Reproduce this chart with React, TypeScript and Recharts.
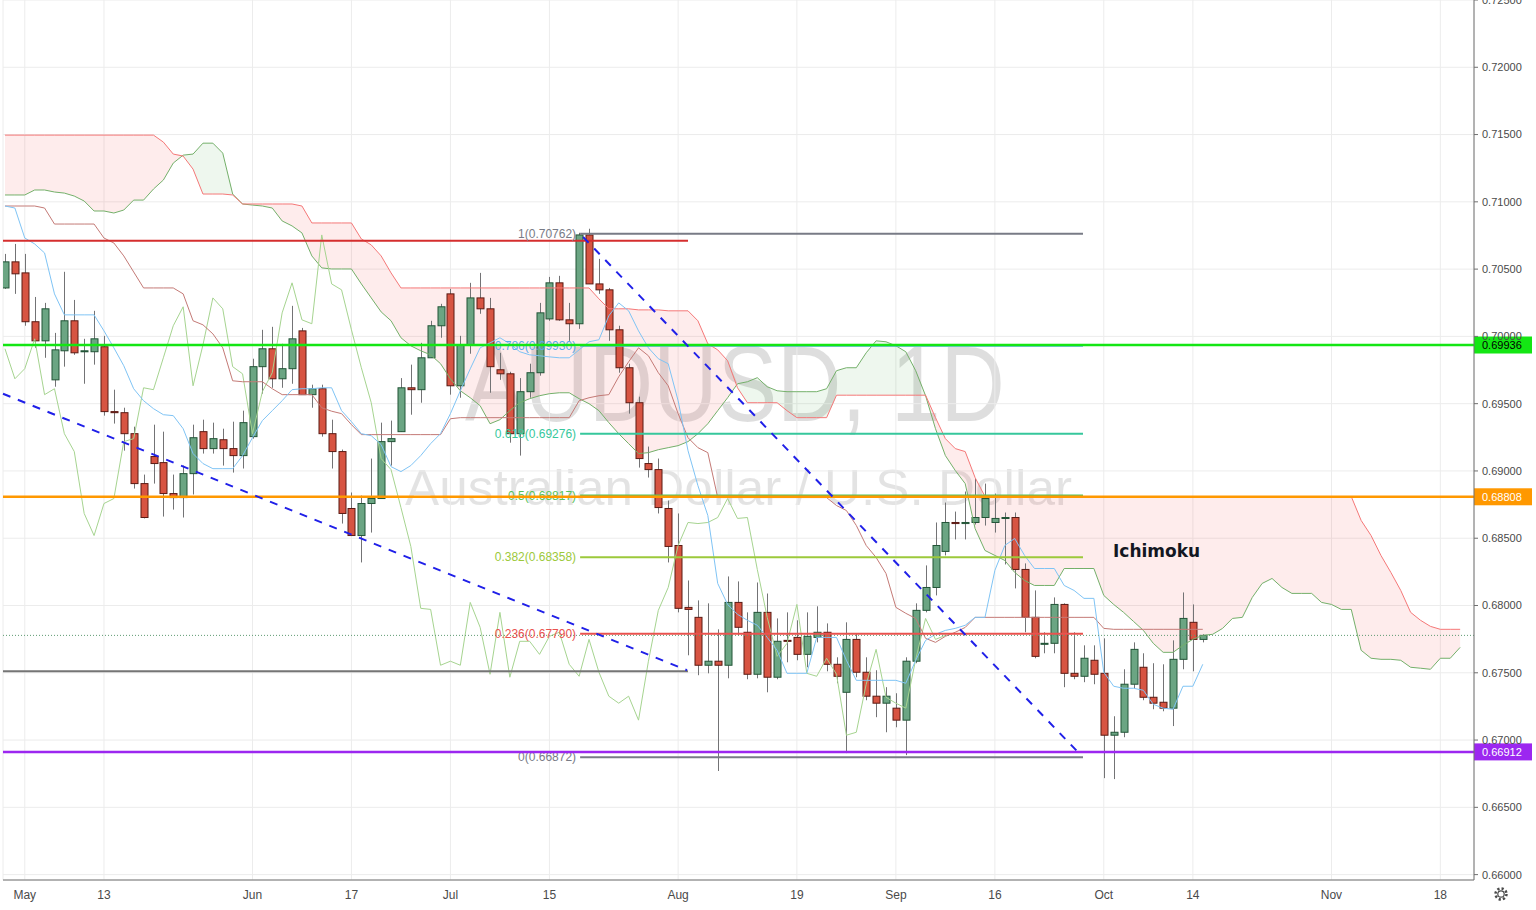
import React from 'react';
import { ComposedChart, Bar, Line, Area, XAxis, YAxis, CartesianGrid, ReferenceLine } from 'recharts';

const FONT = '"Liberation Sans", Arial, sans-serif';

// ---- daily candles (index 0 = 29 Apr 2019) ----
const opens = [
  0.7036, 0.70554, 0.70472, 0.70109, 0.69967, 0.69677, 0.69893, 0.70116, 0.69886, 0.69886,
  0.69923, 0.69441, 0.69433, 0.69277, 0.68906, 0.69107, 0.69062, 0.68832, 0.68802, 0.6898,
  0.69292, 0.69166, 0.69232, 0.69166, 0.69114, 0.69255, 0.69775, 0.69908, 0.69685, 0.6976,
  0.70041, 0.69567, 0.69611, 0.69277, 0.69144, 0.68721, 0.6852, 0.68758, 0.68795, 0.69218,
  0.69292, 0.69618, 0.69604, 0.69841, 0.70079, 0.70316, 0.69633, 0.69937, 0.70286, 0.70205,
  0.69752, 0.69722, 0.69277, 0.69589, 0.6973, 0.7013, 0.70398, 0.70123, 0.70094, 0.70754,
  0.7039, 0.70346, 0.70049, 0.69767, 0.69507, 0.69055, 0.6901, 0.68721, 0.68446, 0.67986,
  0.67912, 0.67556, 0.67586, 0.67556, 0.68023, 0.67801, 0.67489, 0.67949, 0.67467, 0.67741,
  0.67763, 0.67637, 0.67763, 0.67801, 0.67563, 0.67355, 0.67748, 0.67504, 0.67326, 0.67274,
  0.67237, 0.67148, 0.67586, 0.67964, 0.68134, 0.68402, 0.68617, 0.68609, 0.68617, 0.68654,
  0.68617, 0.68647, 0.68654, 0.68268, 0.67912, 0.67712, 0.67719, 0.68008, 0.67496, 0.67474,
  0.67593, 0.67496, 0.67036, 0.67058, 0.67415, 0.67541, 0.67318, 0.67281, 0.67237, 0.676,
  0.67875, 0.67748,
];
const highs = [
  0.70613, 0.70687, 0.70613, 0.70293, 0.70249, 0.70026, 0.7048, 0.70271, 0.69982, 0.7019,
  0.70004, 0.69604, 0.6947, 0.69329, 0.68973, 0.69344, 0.69292, 0.68973, 0.6904, 0.69344,
  0.69381, 0.69359, 0.69314, 0.69366, 0.69448, 0.69834, 0.70049, 0.70071, 0.69945, 0.70227,
  0.70063, 0.69641, 0.69641, 0.69381, 0.69159, 0.6884, 0.68817, 0.69092, 0.69359, 0.69374,
  0.6969, 0.6979, 0.69952, 0.70116, 0.70242, 0.70353, 0.70004, 0.70398, 0.70472, 0.70286,
  0.69878, 0.69737, 0.6969, 0.69797, 0.70249, 0.70442, 0.7045, 0.70249, 0.7077, 0.708,
  0.70576, 0.7036, 0.70079, 0.69797, 0.69552, 0.69181, 0.69092, 0.6878, 0.68684, 0.68186,
  0.68038, 0.68016, 0.67823, 0.68216, 0.68179, 0.67949, 0.68171, 0.68089, 0.67904, 0.67949,
  0.6789, 0.67949, 0.67994, 0.67867, 0.67615, 0.67875, 0.67793, 0.67615, 0.67519, 0.67393,
  0.67348, 0.67615, 0.68016, 0.68298, 0.68617, 0.68765, 0.68698, 0.68847, 0.68943, 0.68906,
  0.68832, 0.68691, 0.68691, 0.68313, 0.68112, 0.67801, 0.6806, 0.68016, 0.67801, 0.67704,
  0.67704, 0.67756, 0.67177, 0.67526, 0.67726, 0.67645, 0.67571, 0.67563, 0.67741, 0.68097,
  0.68008, 0.67786,
];
const lows = [
  0.70353, 0.70316, 0.70079, 0.69915, 0.69841, 0.69626, 0.69775, 0.69863, 0.69648, 0.6979,
  0.69411, 0.69352, 0.69151, 0.68869, 0.68647, 0.68906, 0.68661, 0.68713, 0.68654, 0.68825,
  0.69129, 0.69129, 0.6904, 0.68988, 0.69018, 0.6924, 0.69574, 0.69618, 0.69618, 0.69648,
  0.69567, 0.6947, 0.69255, 0.69018, 0.68609, 0.6852, 0.6832, 0.68542, 0.68795, 0.6904,
  0.69292, 0.69418, 0.69507, 0.69841, 0.6999, 0.69567, 0.69544, 0.69871, 0.70168, 0.69581,
  0.69677, 0.6921, 0.69114, 0.69544, 0.69708, 0.70116, 0.70116, 0.69967, 0.70056, 0.7039,
  0.70316, 0.69967, 0.6973, 0.69426, 0.69025, 0.68951, 0.68684, 0.6832, 0.67949, 0.6763,
  0.67482, 0.67496, 0.6677, 0.67459, 0.67778, 0.67452, 0.67459, 0.67355, 0.67452, 0.67578,
  0.67593, 0.67541, 0.67726, 0.67511, 0.67422, 0.66903, 0.67467, 0.67296, 0.6717, 0.67058,
  0.67095, 0.66888, 0.67571, 0.67949, 0.68075, 0.68372, 0.68491, 0.68491, 0.68602, 0.68594,
  0.68542, 0.68305, 0.68127, 0.67801, 0.67608, 0.67645, 0.67645, 0.67393, 0.67452, 0.6743,
  0.67415, 0.66717, 0.6671, 0.67021, 0.67385, 0.67296, 0.67229, 0.67214, 0.67104, 0.67526,
  0.67511, 0.67726,
];
const closes = [
  0.70554, 0.70465, 0.70109, 0.69967, 0.70205, 0.699, 0.70116, 0.69878, 0.69893, 0.69982,
  0.69441, 0.69433, 0.69277, 0.68906, 0.68654, 0.69055, 0.68832, 0.68802, 0.6898, 0.69247,
  0.69166, 0.6924, 0.69166, 0.69114, 0.69359, 0.69775, 0.69908, 0.69685, 0.6976, 0.69982,
  0.69567, 0.69611, 0.69277, 0.69144, 0.68684, 0.6852, 0.68758, 0.68795, 0.69218, 0.6924,
  0.69618, 0.69604, 0.69841, 0.70079, 0.7022, 0.69633, 0.69937, 0.70286, 0.70205, 0.69775,
  0.69722, 0.69277, 0.69589, 0.6973, 0.70175, 0.70398, 0.70123, 0.70094, 0.70754, 0.7039,
  0.70346, 0.70049, 0.69767, 0.69507, 0.69092, 0.6901, 0.68728, 0.68439, 0.67979, 0.67971,
  0.67556, 0.67586, 0.67556, 0.68023, 0.67838, 0.67489, 0.67949, 0.67467, 0.67734, 0.67734,
  0.67637, 0.67771, 0.67801, 0.67563, 0.67474, 0.67748, 0.67504, 0.67326, 0.67274, 0.67326,
  0.67148, 0.67586, 0.67964, 0.68134, 0.68446, 0.68617, 0.68609, 0.68617, 0.68654, 0.68795,
  0.68647, 0.68654, 0.68268, 0.67912, 0.67622, 0.67719, 0.68008, 0.67496, 0.67474, 0.67608,
  0.67489, 0.67036, 0.67058, 0.67415, 0.67674, 0.67318, 0.67274, 0.67237, 0.676, 0.67904,
  0.67748, 0.67778,
];

// ---- Ichimoku lines ----
const tenkanSen = [
  0.70969, 0.70954, 0.70731, 0.70687, 0.7062, 0.70316, 0.7016, 0.7016, 0.7016, 0.7016,
  0.70041, 0.69915, 0.69782, 0.69611, 0.69522, 0.69463, 0.69418, 0.69411, 0.69314, 0.69129,
  0.69055, 0.69017, 0.69017, 0.69017, 0.69114, 0.69247, 0.69374, 0.69448, 0.69522, 0.69604,
  0.69611, 0.69611, 0.69618, 0.69618, 0.69448, 0.69366, 0.69277, 0.69262, 0.69196, 0.69032,
  0.68995, 0.6904, 0.69114, 0.69203, 0.69277, 0.69426, 0.69596, 0.69759, 0.69915, 0.69952,
  0.6999, 0.69945, 0.69886, 0.69863, 0.69856, 0.69848, 0.69841, 0.69841, 0.699, 0.6996,
  0.69975, 0.70153, 0.70249, 0.7019, 0.70041, 0.69915, 0.69834, 0.69797, 0.69522, 0.69151,
  0.68891, 0.68669, 0.68164, 0.68008, 0.67934, 0.6789, 0.67853, 0.67763, 0.67667, 0.67496,
  0.67496, 0.67496, 0.67763, 0.67763, 0.67763, 0.67593, 0.67444, 0.67444, 0.67444, 0.67444,
  0.67444, 0.67422, 0.67593, 0.67741, 0.67786, 0.67815, 0.6783, 0.67853, 0.67912, 0.67912,
  0.68261, 0.68446, 0.68498, 0.68372, 0.68275, 0.68275, 0.68275, 0.68149, 0.68112, 0.68053,
  0.68053, 0.67504, 0.674, 0.67385, 0.67385, 0.6737, 0.67266, 0.67237, 0.67229, 0.674,
  0.674, 0.67563,
];
const kijunSen = [
  0.70969, 0.70969, 0.70969, 0.70969, 0.70954, 0.70835, 0.70835, 0.70835, 0.70835, 0.70835,
  0.70731, 0.70694, 0.70598, 0.70479, 0.7036, 0.7036, 0.7036, 0.7036, 0.70316, 0.70116,
  0.70086, 0.70019, 0.69915, 0.6967, 0.69663, 0.69663, 0.69663, 0.69611, 0.69567, 0.69567,
  0.69567, 0.69567, 0.6947, 0.69444, 0.69426, 0.69344, 0.6927, 0.6927, 0.6927, 0.6927,
  0.6927, 0.6927, 0.6927, 0.6927, 0.6927, 0.69388, 0.69396, 0.69396, 0.69396, 0.69396,
  0.69396, 0.69396, 0.69396, 0.69396, 0.69396, 0.69396, 0.69396, 0.69396, 0.69522, 0.69544,
  0.69559, 0.69567, 0.697, 0.69811, 0.69915, 0.69856, 0.6973, 0.69633, 0.69426, 0.69247,
  0.69173, 0.69136, 0.68802, 0.68802, 0.68802, 0.68802, 0.68802, 0.68802, 0.68802, 0.68802,
  0.68802, 0.68802, 0.68802, 0.68802, 0.68743, 0.68706, 0.68595, 0.68446, 0.68357, 0.68238,
  0.67986, 0.67942, 0.67904, 0.67756, 0.67726, 0.67771, 0.67801, 0.67837, 0.67912, 0.67912,
  0.67912, 0.67912, 0.67912, 0.67912, 0.67912, 0.67912, 0.67912, 0.67912, 0.67912, 0.67912,
  0.67912, 0.6783, 0.67823, 0.67823, 0.67823, 0.67823, 0.67823, 0.67823, 0.67823, 0.67823,
  0.67823, 0.67823,
];
const senkouA = [
  0.71051, 0.71051, 0.71051, 0.71088, 0.71088, 0.71073, 0.71065, 0.71043, 0.71006, 0.70932,
  0.70932, 0.70917, 0.70939, 0.71013, 0.71013, 0.71095, 0.71162, 0.71288, 0.71347, 0.71355,
  0.71436, 0.71436, 0.71362, 0.71058, 0.70984, 0.70976, 0.70969, 0.70954, 0.70858, 0.70821,
  0.70769, 0.70598, 0.70509, 0.70501, 0.70501, 0.70501, 0.7039, 0.70286, 0.70182, 0.70116,
  0.6999, 0.6993, 0.69893, 0.69863, 0.69797, 0.69685, 0.69596, 0.69544, 0.69485, 0.69351,
  0.69381, 0.69448, 0.69507, 0.69537, 0.69559, 0.69574, 0.69581, 0.69581, 0.69537, 0.695,
  0.69448, 0.69359, 0.69277, 0.69203, 0.69129, 0.69136, 0.69158, 0.69173, 0.69188, 0.69218,
  0.69277, 0.69351, 0.69448, 0.69544, 0.69648, 0.69663, 0.69693, 0.69626, 0.69596, 0.69589,
  0.69589, 0.69589, 0.69589, 0.69611, 0.69745, 0.69767, 0.69767, 0.69878, 0.69967, 0.6996,
  0.6993, 0.69886, 0.69745, 0.69559, 0.69314, 0.69114, 0.69003, 0.68906, 0.68572, 0.68409,
  0.68372, 0.68335, 0.68246, 0.68186, 0.68149, 0.68149, 0.68149, 0.68275, 0.68275, 0.68275,
  0.68275, 0.68075, 0.68008, 0.67949, 0.67882, 0.67815, 0.67719, 0.67652, 0.67652, 0.67704,
  0.67749, 0.67778, 0.67786, 0.6783, 0.67904, 0.67912, 0.6806, 0.68164, 0.68201, 0.68134,
  0.6809, 0.6809, 0.6809, 0.68023, 0.68008, 0.67971, 0.67971, 0.67667, 0.67608, 0.676,
  0.676, 0.67593, 0.67541, 0.67534, 0.67526, 0.67608, 0.67608, 0.67689,
];
const senkouB = [
  0.71496, 0.71496, 0.71496, 0.71496, 0.71496, 0.71496, 0.71496, 0.71496, 0.71496, 0.71496,
  0.71496, 0.71496, 0.71496, 0.71496, 0.71496, 0.71496, 0.71444, 0.71355, 0.7134, 0.71243,
  0.71058, 0.71058, 0.71058, 0.71051, 0.70984, 0.70984, 0.70984, 0.70984, 0.70984, 0.70984,
  0.70969, 0.70843, 0.70843, 0.70843, 0.70843, 0.70843, 0.70724, 0.7068, 0.70598, 0.70472,
  0.7036, 0.7036, 0.7036, 0.7036, 0.7036, 0.7036, 0.7036, 0.7036, 0.7036, 0.7036,
  0.7036, 0.7036, 0.7036, 0.7036, 0.7036, 0.7036, 0.7036, 0.7036, 0.7036, 0.7036,
  0.70279, 0.70205, 0.70205, 0.70205, 0.70197, 0.70197, 0.70197, 0.7019, 0.7019, 0.7019,
  0.70116, 0.69945, 0.699, 0.69819, 0.69618, 0.69507, 0.69507, 0.69507, 0.69507, 0.69448,
  0.69396, 0.69396, 0.69396, 0.69396, 0.69563, 0.69563, 0.69563, 0.69563, 0.69563, 0.69563,
  0.69563, 0.69563, 0.69563, 0.69563, 0.69396, 0.6924, 0.69166, 0.69144, 0.68951, 0.6881,
  0.6881, 0.6881, 0.6881, 0.6881, 0.6881, 0.6881, 0.6881, 0.6881, 0.6881, 0.6881,
  0.6881, 0.6881, 0.6881, 0.6881, 0.6881, 0.6881, 0.6881, 0.6881, 0.6881, 0.6881,
  0.6881, 0.6881, 0.6881, 0.6881, 0.6881, 0.6881, 0.6881, 0.6881, 0.6881, 0.6881,
  0.6881, 0.6881, 0.6881, 0.6881, 0.6881, 0.6881, 0.6881, 0.68632, 0.6852, 0.68372,
  0.68246, 0.68112, 0.67949, 0.6789, 0.67845, 0.67823, 0.67823, 0.67823,
];
const LAG = 26;

// ---- axes ----
const timeTicks = [2, 10, 25, 35, 45, 55, 68, 80, 90, 100, 111, 120, 134, 145];
const timeLabels = ['May', '13', 'Jun', '17', 'Jul', '15', 'Aug', '19', 'Sep', '16', 'Oct', '14', 'Nov', '18'];
const priceTicks = [0.66, 0.665, 0.67, 0.675, 0.68, 0.685, 0.69, 0.695, 0.7, 0.705, 0.71, 0.715, 0.72, 0.725];

// ---- drawings ----
const fibRatios = ['1', '0.786', '0.618', '0.5', '0.382', '0.236', '0'];
const fibValues = [0.70762, 0.6993, 0.69276, 0.68817, 0.68358, 0.6779, 0.66872];
const fibColors = ['#787b86', '#5aa9ea', '#36c79c', '#57c25a', '#9cc93b', '#e9524e', '#787b86'];
const fibSpan = [58.1, 108.9];

const levelValues = [0.69936, 0.68808, 0.66912];
const levelColors = ['#14e614', '#ff9800', '#9c27f0'];
const levelTextColors = ['#000000', '#ffffff', '#ffffff'];

const shortLevelValues = [0.70711, 0.67511];
const shortLevelColors = ['#d52e2e', '#757575'];
const shortLevelSpan = [-0.2, 69];

const trendStarts = [
  { x: -0.2, y: 0.69574 },
  { x: 58.4, y: 0.70739 },
];
const trendEnds = [
  { x: 68.9, y: 0.67519 },
  { x: 108.4, y: 0.6691 },
];

const rows = senkouA.map((a, i) => {
  const b = senkouB[i];
  const row: any = {
    i,
    spanA: a,
    spanB: b,
    greenCloud: a >= b ? [b, a] : [b, b],
    redCloud: b > a ? [a, b] : [a, a],
  };
  if (i < opens.length) {
    row.o = opens[i];
    row.h = highs[i];
    row.l = lows[i];
    row.c = closes[i];
    row.tenkan = tenkanSen[i];
    row.kijun = kijunSen[i];
  }
  if (i + LAG < closes.length) row.chikou = closes[i + LAG];
  return row;
});

const Candle = (props: any) => {
  const { x, y, width, height, payload } = props;
  if (!payload || payload.h === undefined) return null;
  const top = Math.min(y, y + height);
  const bot = Math.max(y, y + height);
  const rng = payload.h - payload.l || 1e-9;
  const py = (v: number) => top + ((payload.h - v) / rng) * (bot - top);
  const cx = Math.round(x + width / 2);
  const up = payload.c >= payload.o;
  const bTop = py(Math.max(payload.o, payload.c));
  const bBot = py(Math.min(payload.o, payload.c));
  return (
    <g>
      <line x1={cx + 0.5} x2={cx + 0.5} y1={top} y2={bot} stroke="#737375" strokeWidth={1} />
      <rect
        x={cx - 3}
        y={bTop}
        width={7}
        height={Math.max(1, bBot - bTop)}
        fill={up ? '#6ba583' : '#d75442'}
        stroke={up ? '#225437' : '#5b1a13'}
        strokeWidth={1}
      />
    </g>
  );
};

const PriceTag = (props: any) => {
  const { viewBox, bg, fg, text } = props;
  if (!viewBox) return null;
  const x = viewBox.x + viewBox.width;
  const y = viewBox.y;
  return (
    <g>
      <rect x={x} y={y - 8.5} width={58} height={17} fill={bg} />
      <text x={x + 8} y={y + 4} fontSize={11} fontFamily={FONT} fill={fg}>
        {text}
      </text>
    </g>
  );
};

const FibLabel = (props: any) => {
  const { viewBox, color, text } = props;
  if (!viewBox) return null;
  return (
    <text
      x={viewBox.x - 4}
      y={viewBox.y + 4}
      textAnchor="end"
      fontSize={12}
      fontFamily={FONT}
      fill={color}
    >
      {text}
    </text>
  );
};

const TimeTick = (props: any) => {
  const { x, y, payload } = props;
  const idx = timeTicks.indexOf(payload.value);
  const label = idx >= 0 ? timeLabels[idx] : '';
  return (
    <text x={x} y={y + 11} textAnchor="middle" fontSize={12} fontFamily={FONT} fill="#4a4a4a">
      {label}
    </text>
  );
};

export default function App() {
  return (
    <div style={{ position: 'absolute', left: 0, top: 0, width: 1536, height: 910, background: '#ffffff', overflow: 'hidden' }}>
      <svg width={1536} height={910} style={{ position: 'absolute', left: 0, top: 0 }}>
        <text x={465} y={421} fontSize={107} fontFamily={FONT} fill="rgba(0,0,0,0.13)" textLength={540} lengthAdjust="spacingAndGlyphs">
          AUDUSD, 1D
        </text>
        <text x={405} y={505} fontSize={50} fontFamily={FONT} fill="rgba(0,0,0,0.11)" textLength={667} lengthAdjust="spacingAndGlyphs">
          Australian Dollar / U.S. Dollar
        </text>
      </svg>
      <div style={{ position: 'absolute', left: 0, top: 0 }}>
        <ComposedChart width={1536} height={910} data={rows} margin={{ top: 0, right: 0, bottom: 0, left: 3 }}>
          <CartesianGrid stroke="#ececec" strokeWidth={1} />
          <XAxis
            dataKey="i"
            type="number"
            domain={[-0.2, 148.4]}
            allowDataOverflow
            ticks={timeTicks}
            interval={0}
            height={30}
            tickLine={false}
            axisLine={{ stroke: '#707070' }}
            tick={<TimeTick />}
          />
          <YAxis
            orientation="right"
            type="number"
            domain={[0.6596, 0.725]}
            allowDataOverflow
            ticks={priceTicks}
            interval={0}
            width={62}
            tickSize={4}
            tickMargin={4}
            tickFormatter={(v: number) => v.toFixed(5)}
            tick={{ fontSize: 11, fill: '#4a4a4a', fontFamily: FONT }}
            axisLine={{ stroke: '#707070' }}
            tickLine={{ stroke: '#707070' }}
          />
          <Area dataKey="redCloud" stroke="none" fill="rgba(245,60,60,0.16)" isAnimationActive={false} />
          <Area dataKey="greenCloud" stroke="none" fill="rgba(0,128,0,0.11)" isAnimationActive={false} />
          <Line dataKey="spanA" stroke="#74b06a" strokeWidth={1} dot={false} isAnimationActive={false} />
          <Line dataKey="spanB" stroke="#f57878" strokeWidth={1} dot={false} isAnimationActive={false} />
          <Line dataKey="chikou" stroke="#a6d490" strokeWidth={1} dot={false} isAnimationActive={false} />
          <Line dataKey="kijun" stroke="#c47a76" strokeWidth={1} dot={false} isAnimationActive={false} />
          <Line dataKey="tenkan" stroke="#7fc4f5" strokeWidth={1} dot={false} isAnimationActive={false} />
          <Bar
            dataKey={(d: any) => (d.h !== undefined ? [d.l, d.h] : null)}
            shape={<Candle />}
            barSize={8}
            isAnimationActive={false}
          />
          <ReferenceLine y={closes[closes.length - 1]} stroke="#5f9a72" strokeDasharray="1 2" strokeWidth={1} />
          {shortLevelValues.map((v, k) => (
            <ReferenceLine
              key={'s' + k}
              segment={[{ x: shortLevelSpan[0], y: v }, { x: shortLevelSpan[1], y: v }]}
              stroke={shortLevelColors[k]}
              strokeWidth={2}
            />
          ))}
          {fibValues.map((v, k) => (
            <ReferenceLine
              key={'f' + k}
              segment={[{ x: fibSpan[0], y: v }, { x: fibSpan[1], y: v }]}
              stroke={fibColors[k]}
              strokeWidth={2}
              label={<FibLabel color={fibColors[k]} text={`${fibRatios[k]}(${v.toFixed(5)})`} />}
            />
          ))}
          {levelValues.map((v, k) => (
            <ReferenceLine
              key={'l' + k}
              y={v}
              stroke={levelColors[k]}
              strokeWidth={2.5}
              label={<PriceTag bg={levelColors[k]} fg={levelTextColors[k]} text={v.toFixed(5)} />}
            />
          ))}
          {trendStarts.map((s, k) => (
            <ReferenceLine
              key={'t' + k}
              segment={[s, trendEnds[k]]}
              stroke="#2020e8"
              strokeWidth={2}
              strokeDasharray="8 8"
            />
          ))}
        </ComposedChart>
      </div>
      <svg width={1536} height={910} style={{ position: 'absolute', left: 0, top: 0, pointerEvents: 'none' }}>
        <text x={1113} y={557} fontSize={17} fontWeight="bold" fontFamily='"DejaVu Sans", Verdana, sans-serif' fill="#131722">
          Ichimoku
        </text>
        <circle cx={1501} cy={894} r={5.5} fill="none" stroke="#4a4a4a" strokeWidth={2.5} strokeDasharray="2.2 2.1" />
        <circle cx={1501} cy={894} r={3.2} fill="none" stroke="#4a4a4a" strokeWidth={1.2} />
      </svg>
    </div>
  );
}
